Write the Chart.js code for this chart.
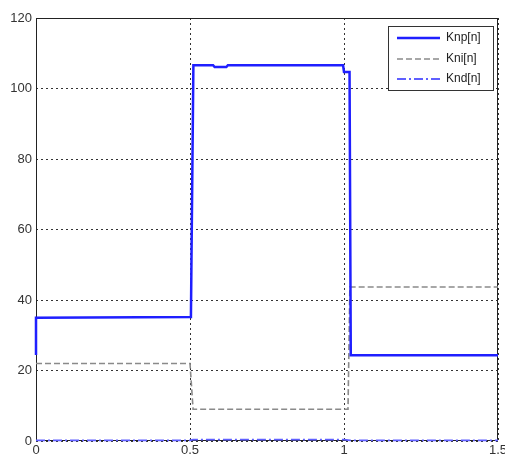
<!DOCTYPE html>
<html>
<head>
<meta charset="utf-8">
<script src="https://cdn.jsdelivr.net/npm/chart.js@4"></script>
<style>
  html, body { margin: 0; padding: 0; background: #fff; }
  #wrap { width: 505px; height: 459px; }
</style>
</head>
<body>
<div id="wrap"><canvas id="kChart"></canvas></div>
<script>
// gain traces (time in s)
const knpT = [0, 0, 0.503, 0.511, 0.575, 0.58, 0.618, 0.623, 0.997, 1.0, 1.018, 1.022, 1.5];
const knpV = [24.4, 35, 35.2, 106.6, 106.6, 106.1, 106.1, 106.6, 106.6, 104.7, 104.7, 24.3, 24.3];

const kniT = [0, 0.5, 0.51, 1.013, 1.019, 1.5];
const kniV = [22, 22, 9, 9, 43.7, 43.7];

const kndT = [0, 0.5, 0.51, 1.0, 1.02, 1.5];
const kndV = [0.2, 0.2, 0.4, 0.4, 0.2, 0.2];

const seriesNames = ['Knp[n]', 'Kni[n]', 'Knd[n]'];
const yTicks = [0, 20, 40, 60, 80, 100, 120];
const xTicks = [0, 0.5, 1, 1.5];

function toPoints(t, v) {
    return t.map((x, i) => ({ x: x, y: v[i] }));
}

const colors = ['#1f1fff', '#8a8a8a', '#5f5fff'];
const dashes = [[], [6, 3], [9, 3, 2, 3]];
const widths = [2.5, 1.6, 1.8];

// Frame under the lines, legend box on top
const framePlugin = {
    id: 'frame',
    beforeDatasetsDraw(chart) {
        const { ctx, chartArea: a } = chart;
        ctx.save();
        ctx.strokeStyle = '#222';
        ctx.lineWidth = 1;
        ctx.setLineDash([]);
        ctx.strokeRect(a.left + 0.5, a.top + 0.5, a.right - a.left - 1, a.bottom - a.top - 1);
        ctx.restore();
    },
    afterDatasetsDraw(chart) {
        const { ctx } = chart;
        ctx.save();
        const bx = 388, by = 26, bw = 105, bh = 64;
        ctx.fillStyle = '#fff';
        ctx.fillRect(bx, by, bw, bh);
        ctx.strokeStyle = '#333';
        ctx.lineWidth = 1;
        ctx.strokeRect(bx + 0.5, by + 0.5, bw, bh);
        const rows = [38, 59, 79];
        ctx.font = '12px "Liberation Sans", Arial, sans-serif';
        ctx.textBaseline = 'middle';
        seriesNames.forEach((name, i) => {
            ctx.beginPath();
            ctx.strokeStyle = colors[i];
            ctx.lineWidth = widths[i];
            ctx.setLineDash(dashes[i]);
            ctx.moveTo(397, rows[i]);
            ctx.lineTo(440, rows[i]);
            ctx.stroke();
            ctx.setLineDash([]);
            ctx.fillStyle = '#222';
            ctx.fillText(name, 446, rows[i]);
        });
        ctx.restore();
    }
};

const ctx = document.getElementById('kChart').getContext('2d');
window.kChart = new Chart(ctx, {
    type: 'line',
    data: {
        datasets: [
            { label: seriesNames[0], data: toPoints(knpT, knpV) },
            { label: seriesNames[1], data: toPoints(kniT, kniV) },
            { label: seriesNames[2], data: toPoints(kndT, kndV) }
        ].map((d, i) => Object.assign(d, {
            borderColor: colors[i],
            borderWidth: widths[i],
            borderDash: dashes[i],
            pointRadius: 0,
            fill: false,
            tension: 0,
            clip: 4
        }))
    },
    options: {
        responsive: true,
        maintainAspectRatio: false,
        animation: false,
        layout: { padding: { top: 18, right: 7, left: 0, bottom: 0 } },
        plugins: {
            legend: { display: false },
            tooltip: { enabled: false }
        },
        scales: {
            x: {
                type: 'linear',
                min: 0,
                max: 1.5,
                afterFit: scale => {
                    scale.height = 18;
                    scale.paddingRight = 0;
                    scale.paddingLeft = 0;
                },
                afterBuildTicks: scale => { scale.ticks = xTicks.map(v => ({ value: v })); },
                ticks: {
                    color: '#333',
                    padding: 2,
                    maxRotation: 0,
                    font: { family: '"Liberation Sans", Arial, sans-serif', size: 13 },
                    callback: v => String(v)
                },
                grid: { color: '#333', lineWidth: 1, drawTicks: false },
                border: { display: false, dash: [2, 3] }
            },
            y: {
                min: 0,
                max: 120,
                afterFit: scale => { scale.width = 36; },
                afterBuildTicks: scale => { scale.ticks = yTicks.map(v => ({ value: v })); },
                ticks: {
                    color: '#333',
                    padding: 4,
                    font: { family: '"Liberation Sans", Arial, sans-serif', size: 13 }
                },
                grid: { color: '#333', lineWidth: 1, drawTicks: false },
                border: { display: false, dash: [2, 3] }
            }
        }
    },
    plugins: [framePlugin]
});
</script>
</body>
</html>
